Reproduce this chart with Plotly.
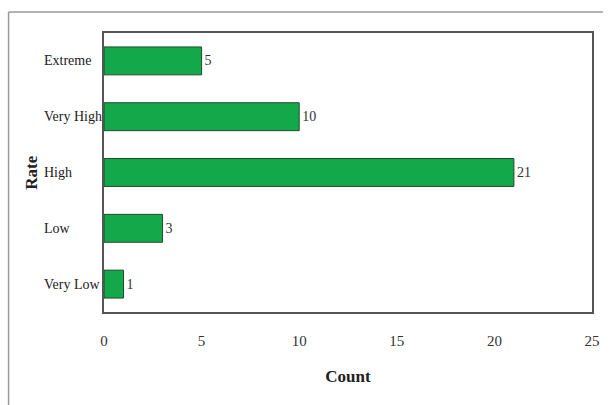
import plotly.graph_objects as go

categories = ["Very Low", "Low", "High", "Very High", "Extreme"]
counts = [1, 3, 21, 10, 5]
x_ticks = [0, 5, 10, 15, 20, 25]

FONT = "Liberation Serif"
L, R, T, B = 104, 11, 33, 93
W, H = 611, 405
pw, ph = W - L - R, H - T - B

fig = go.Figure(go.Bar(
    y=categories, x=counts, orientation="h",
    marker=dict(color="#13A84A", line=dict(color="#1f4d2a", width=1)),
    width=0.5,
    text=[str(c) for c in counts], textposition="outside",
    textfont=dict(family=FONT, size=14, color="#333333"),
    cliponaxis=False,
))

# left-aligned category labels
for c in categories:
    fig.add_annotation(x=(41 - L) / pw, xref="paper", y=c, yref="y", text=c,
                       showarrow=False, xanchor="left",
                       font=dict(family=FONT, size=14, color="#222222"))

# outer frame (left and top edges only are visible)
fx0 = (7 - L) / pw
fy1 = (T + ph - 12) / ph
fy0 = (T + ph - H) / ph
fig.add_shape(type="line", xref="paper", yref="paper", x0=fx0, x1=fx0, y0=fy0, y1=fy1,
              line=dict(color="#9a9a9a", width=1.5), layer="below")
fig.add_shape(type="line", xref="paper", yref="paper", x0=fx0, x1=(W - L) / pw, y0=fy1, y1=fy1,
              line=dict(color="#9a9a9a", width=1.5), layer="below")

fig.update_layout(
    width=W, height=H, margin=dict(l=L, r=R, t=T, b=B),
    paper_bgcolor="white", plot_bgcolor="white",
    showlegend=False,
    font=dict(family=FONT, size=14, color="#222222"),
    xaxis=dict(range=[0, 25], tickvals=x_ticks, ticks="", showgrid=False,
               zeroline=False, showline=True, mirror=True,
               linecolor="#555555", linewidth=1.5, ticklabelstandoff=14,
               tickfont=dict(family=FONT, size=15, color="#333333"),
               title=dict(text="<b>Count</b>", font=dict(family=FONT, size=17, color="#222222"), standoff=22)),
    yaxis=dict(categoryorder="array", categoryarray=categories,
               range=[-0.5, 4.5], showticklabels=False, ticks="", showgrid=False,
               zeroline=False, showline=True, mirror=True,
               linecolor="#555555", linewidth=1.5),
)
fig.add_annotation(x=(30 - L) / pw, xref="paper", y=0.5, yref="paper", text="<b>Rate</b>",
                   textangle=-90, showarrow=False, xanchor="center",
                   font=dict(family=FONT, size=17, color="#222222"))

fig.write_html("out.html")
